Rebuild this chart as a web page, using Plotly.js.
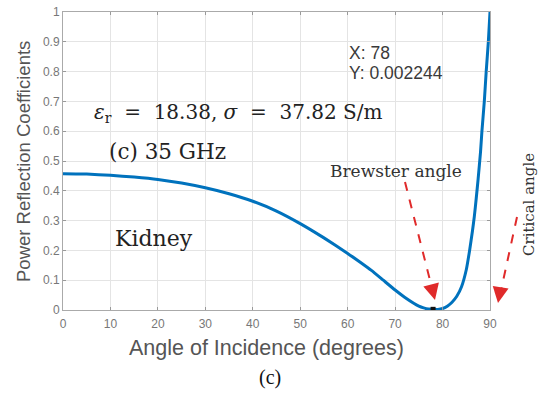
<!DOCTYPE html>
<html>
<head>
<meta charset="utf-8">
<script src="https://cdn.plot.ly/plotly-3.0.1.min.js"></script>
<style>html,body{margin:0;padding:0;background:#fff;}#chart{width:541px;height:396px;}</style>
</head>
<body>
<div id="chart"></div>
<script>
// Angle of incidence (degrees) and power reflection coefficient
const angles = [0,5,10,15,20,25,30,35,40,45,50,55,60,62.5,65,67.5,70,72,74,75,76,77,78,79,80,81,82,83,84,85,85.7,86.3,86.7,87.1,87.5,88,88.3,88.8,89.2,89.65,90];
const reflection = [0.457,0.456,0.452,0.446,0.438,0.426,0.41,0.39,0.365,0.332,0.29,0.242,0.19,0.162,0.133,0.1,0.067,0.043,0.022,0.013,0.007,0.003,0.002244,0.002,0.005,0.013,0.026,0.046,0.078,0.135,0.2,0.265,0.314,0.375,0.44,0.53,0.6,0.7,0.8,0.9,1.0];
const tipX = [78];
const tipY = [0.002244];
const xTicks = [0,10,20,30,40,50,60,70,80,90];
const yTicks = [0,0.1,0.2,0.3,0.4,0.5,0.6,0.7,0.8,0.9,1];

const traces = [
  {x: angles, y: reflection, type: 'scatter', mode: 'lines',
   line: {color: '#0072BD', width: 3, shape: 'spline', smoothing: 0.4}, hoverinfo: 'skip'},
  {x: tipX, y: tipY, type: 'scatter', mode: 'markers',
   marker: {color: '#111', size: 5, symbol: 'square'}, hoverinfo: 'skip'}
];

const serif = 'DejaVu Serif, serif';
const sans = 'Liberation Sans, Arial, sans-serif';
const red = '#e02a2a';
// paper coordinate helpers (plot area: x 63..490, y 12..310)
const W = 427, H = 298;
const px = v => (v - 63) / W;
const py = v => (310 - v) / H;

const layout = {
  width: 541, height: 396,
  margin: {l: 63, r: 51, t: 12, b: 86},
  paper_bgcolor: '#fff', plot_bgcolor: '#fff',
  showlegend: false,
  font: {family: sans, color: '#555'},
  xaxis: {
    range: [0, 90], tickvals: xTicks, ticks: 'inside', ticklen: 3, tickcolor: '#999',
    showgrid: true, gridcolor: '#e4e4e4', zeroline: false,
    showline: true, linecolor: '#aaa', linewidth: 1, mirror: 'ticks',
    tickfont: {size: 12, color: '#777'}, ticklabelstandoff: 3
  },
  yaxis: {
    range: [0, 1], tickvals: yTicks, ticks: 'inside', ticklen: 3, tickcolor: '#999',
    showgrid: true, gridcolor: '#e4e4e4', zeroline: false,
    showline: true, linecolor: '#aaa', linewidth: 1, mirror: 'ticks',
    tickfont: {size: 12, color: '#777'}
  },
  shapes: [
    {type: 'line', xref: 'paper', yref: 'paper', x0: px(405), y0: py(182), x1: px(433), y1: py(292),
     line: {color: red, width: 2, dash: 'dash'}},
    {type: 'line', xref: 'paper', yref: 'paper', x0: px(517), y0: py(217), x1: px(500), y1: py(295),
     line: {color: red, width: 2, dash: 'dash'}}
  ],
  annotations: [
    {xref: 'paper', yref: 'paper', x: px(266), y: py(348), xanchor: 'center', yanchor: 'middle',
     text: 'Angle of Incidence (degrees)', showarrow: false, font: {size: 21.5, color: '#555', family: sans}},
    {xref: 'paper', yref: 'paper', x: px(23), y: py(162), xanchor: 'center', yanchor: 'middle', textangle: -90,
     text: 'Power Reflection Coefficients', showarrow: false, font: {size: 18.5, color: '#555', family: sans}},
    {xref: 'paper', yref: 'paper', x: px(347), y: py(53), xanchor: 'left', yanchor: 'middle',
     text: 'X: 78', showarrow: false, font: {size: 17.5, color: '#3a3a3a', family: sans}},
    {xref: 'paper', yref: 'paper', x: px(347), y: py(73), xanchor: 'left', yanchor: 'middle',
     text: 'Y: 0.002244', showarrow: false, font: {size: 17.5, color: '#3a3a3a', family: sans}},
    {xref: 'paper', yref: 'paper', x: px(92), y: py(113), xanchor: 'left', yanchor: 'middle',
     text: '<i>ε</i><sub>r</sub>  =  18.38, <i>σ</i>  =  37.82 S/m', showarrow: false,
     font: {size: 20, color: '#222', family: serif}},
    {xref: 'paper', yref: 'paper', x: px(107), y: py(151), xanchor: 'left', yanchor: 'middle',
     text: '(c) 35 GHz', showarrow: false, font: {size: 21.5, color: '#222', family: serif}},
    {xref: 'paper', yref: 'paper', x: px(113), y: py(238), xanchor: 'left', yanchor: 'middle',
     text: 'Kidney', showarrow: false, font: {size: 22, color: '#222', family: serif}},
    {xref: 'paper', yref: 'paper', x: px(328), y: py(171), xanchor: 'left', yanchor: 'middle',
     text: 'Brewster angle', showarrow: false, font: {size: 17, color: '#333', family: serif}},
    {xref: 'paper', yref: 'paper', x: px(529), y: py(205), xanchor: 'center', yanchor: 'middle',
     text: 'Critical angle', textangle: -90, showarrow: false, font: {size: 15, color: '#333', family: serif}},
    {xref: 'paper', yref: 'paper', x: px(270), y: py(378), xanchor: 'center', yanchor: 'middle',
     text: '(c)', showarrow: false, font: {size: 20, color: '#111', family: 'Liberation Serif, serif'}},
    // arrowheads
    {xref: 'paper', yref: 'paper', x: px(435), y: py(300), ax: -3, ay: -12, text: '', showarrow: true,
     arrowhead: 2, arrowsize: 1.6, arrowwidth: 2, arrowcolor: red},
    {xref: 'paper', yref: 'paper', x: px(498), y: py(303), ax: 2, ay: -12, text: '', showarrow: true,
     arrowhead: 2, arrowsize: 1.6, arrowwidth: 2, arrowcolor: red}
  ]
};

Plotly.newPlot('chart', traces, layout, {displayModeBar: false, staticPlot: true});
</script>
</body>
</html>
